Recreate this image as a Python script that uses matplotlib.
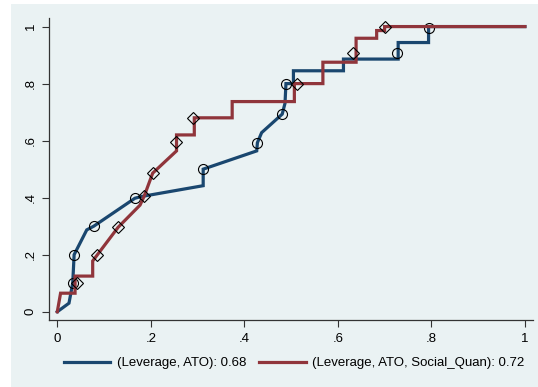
import matplotlib.pyplot as plt
from matplotlib.patches import Rectangle
from matplotlib.lines import Line2D

plt.rcParams['font.family'] = ['Liberation Sans', 'DejaVu Sans']

# ROC curve 1: (Leverage, ATO)
blue_x = [0, 0.025, 0.033, 0.036, 0.063, 0.078, 0.166, 0.18, 0.312, 0.312, 0.4265, 0.428,
          0.437, 0.481, 0.487, 0.489, 0.505, 0.505, 0.612, 0.612, 0.729, 0.729, 0.794, 0.794, 1.0]
blue_y = [0, 0.03, 0.10, 0.20, 0.287, 0.30, 0.398, 0.404, 0.442, 0.50, 0.564, 0.593,
          0.628, 0.693, 0.731, 0.80, 0.80, 0.845, 0.845, 0.886, 0.886, 0.944, 0.944, 1.0, 1.0]
blue_mx = [0.033, 0.036, 0.078, 0.166, 0.312, 0.428, 0.481, 0.489, 0.726, 0.794]
blue_my = [0.10, 0.20, 0.30, 0.398, 0.50, 0.593, 0.693, 0.80, 0.907, 0.994]

# ROC curve 2: (Leverage, ATO, Social_Quan)
red_x = [0, 0.007, 0.038, 0.038, 0.0757, 0.0757, 0.130, 0.177, 0.186, 0.204, 0.255, 0.255,
         0.293, 0.293, 0.374, 0.374, 0.507, 0.507, 0.568, 0.568, 0.639, 0.639, 0.683, 0.683,
         0.70, 0.70, 1.0]
red_y = [0, 0.065, 0.065, 0.125, 0.125, 0.178, 0.296, 0.374, 0.406, 0.486, 0.564, 0.62,
         0.62, 0.68, 0.68, 0.737, 0.737, 0.80, 0.80, 0.875, 0.875, 0.959, 0.959, 0.986,
         0.986, 1.0, 1.0]
red_mx = [0.0415, 0.084, 0.130, 0.186, 0.204, 0.254, 0.29, 0.512, 0.633, 0.701]
red_my = [0.10, 0.20, 0.296, 0.406, 0.486, 0.594, 0.68, 0.799, 0.909, 1.0]

labels = ["(Leverage, ATO): 0.68", "(Leverage, ATO, Social_Quan): 0.72"]
ticks = [0, 0.2, 0.4, 0.6, 0.8, 1]
tick_labels = ["0", ".2", ".4", ".6", ".8", "1"]

bg = "#EAF2F3"
blue = "#1A476F"
red = "#90353B"

fig = plt.figure(figsize=(5.38, 3.87), dpi=100, facecolor="white")
fig.patches.append(Rectangle((11 / 538, 0), 1, (387 - 4) / 387, transform=fig.transFigure,
                             facecolor=bg, edgecolor="none", zorder=-1))

ax = fig.add_axes([49.3 / 538, 1 - 320 / 387, 484 / 538, 301.7 / 387])
ax.set_facecolor(bg)

ax.plot(blue_x, blue_y, color=blue, lw=2.3, solid_joinstyle="miter", zorder=2)
ax.plot(blue_mx, blue_my, ls="none", marker="o", ms=7.2, mfc="none", mec="black", mew=0.8, zorder=3)
ax.plot(red_x, red_y, color=red, lw=2.3, solid_joinstyle="miter", zorder=4)
ax.plot(red_mx, red_my, ls="none", marker="D", ms=6.6, mfc="none", mec="black", mew=0.8, zorder=5)

ax.set_xlim(-0.0171, 1.018)
ax.set_ylim(-0.029, 1.029)
ax.set_xticks(ticks)
ax.set_xticklabels(tick_labels)
ax.set_yticks(ticks)
ax.set_yticklabels(tick_labels, rotation=90, va="center")
ax.tick_params(direction="out", length=5, width=0.8, color="#333333", labelsize=9.5, pad=4)

for side in ["top", "right"]:
    ax.spines[side].set_visible(False)
for side in ["left", "bottom"]:
    ax.spines[side].set_color("#333333")
    ax.spines[side].set_linewidth(0.9)

handles = [Line2D([], [], color=blue, lw=2.3), Line2D([], [], color=red, lw=2.3)]
fig.legend(handles, labels, loc="center", bbox_to_anchor=(0.547, 1 - 363.3 / 387), ncol=2,
           frameon=False, fontsize=9.5, handlelength=3.5, handletextpad=0.5, columnspacing=1.0)

fig.savefig("out.png", dpi=100, facecolor="white")
